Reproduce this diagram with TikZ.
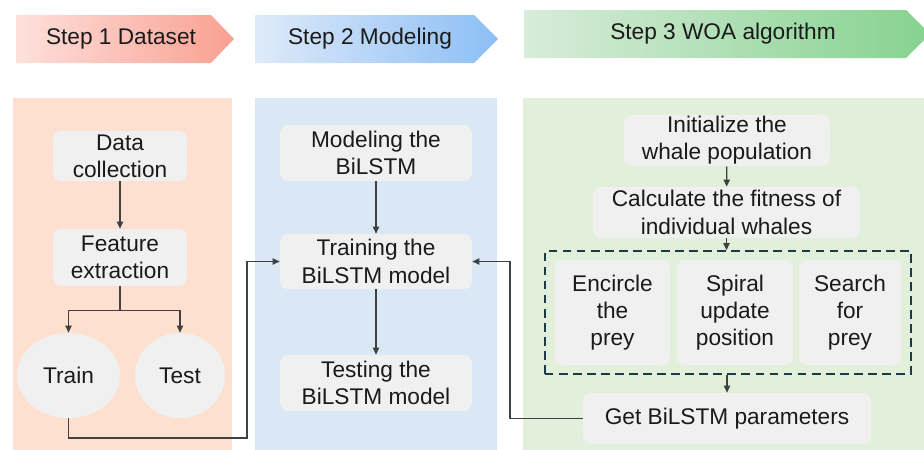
\documentclass[tikz,border=0pt]{standalone}
\usepackage{fontspec}
\setmainfont{Liberation Sans}
\usetikzlibrary{shapes.geometric,arrows.meta,fit,positioning}

\definecolor{boxgray}{RGB}{240,240,240}
\definecolor{linegray}{RGB}{64,64,64}
\definecolor{textblack}{RGB}{26,26,26}
\definecolor{peachpanel}{RGB}{253,224,208}
\definecolor{bluepanel}{RGB}{218,232,246}
\definecolor{greenpanel}{RGB}{226,239,218}
\definecolor{dashteal}{RGB}{28,58,72}

\tikzset{
    txt/.style={font=\fontsize{12.9}{15.5}\selectfont, text=textblack, align=center},
    stepbox/.style={txt, rectangle, rounded corners=0.16cm, fill=boxgray, inner sep=0pt},
    roundbox/.style={txt, ellipse, fill=boxgray, inner sep=0pt},
    dashbox/.style={draw=dashteal, line width=1.1pt, dash pattern=on 5pt off 3pt},
    flow/.style={draw=linegray, line width=0.75pt, -{Triangle[length=4pt,width=3.6pt]}}
}

\begin{document}
\begin{tikzpicture}[x=0.02cm, y=-0.02cm]
    \useasboundingbox (0,0) rectangle (924,450);

    % Step arrows on top
    \shade[left color={rgb,255:red,253;green,224;blue,219}, right color={rgb,255:red,249;green,160;blue,145}]
        (16,15) -- (211,15) -- (234,39) -- (211,63) -- (16,63) -- cycle;
    \shade[left color={rgb,255:red,222;green,234;blue,249}, right color={rgb,255:red,140;green,190;blue,245}]
        (255,15) -- (474,15) -- (498,39) -- (474,63) -- (255,63) -- cycle;
    \shade[left color={rgb,255:red,216;green,236;blue,218}, right color={rgb,255:red,134;green,210;blue,143}]
        (524,10) -- (906,10) -- (930,34) -- (906,58) -- (524,58) -- cycle;
    \node[txt] (step1) at (121,39) {Step 1 Dataset};
    \node[txt] (step2) at (370,39) {Step 2 Modeling};
    \node[txt] (step3) at (723,34) {Step 3 WOA algorithm};

    % Panels
    \fill[peachpanel] (13,98) rectangle (232,450);
    \fill[bluepanel] (255,98) rectangle (497,450);
    \fill[greenpanel] (523,98) rectangle (924,450);

    % Step 1 dataset
    \node[stepbox, minimum width=2.68cm, minimum height=1cm] (data) at (120,156) {Data\\collection};
    \node[stepbox, minimum width=2.68cm, minimum height=1.14cm] (feat) at (120,257.5) {Feature\\extraction};
    \node[roundbox, minimum width=2.06cm, minimum height=1.7cm] (train) at (68.5,375.5) {Train};
    \node[roundbox, minimum width=1.8cm, minimum height=1.7cm] (test) at (180,375.5) {Test};

    % Step 2 modeling
    \node[stepbox, minimum width=3.84cm, minimum height=1.12cm] (model) at (376,153) {Modeling the\\BiLSTM};
    \node[stepbox, minimum width=3.84cm, minimum height=1.1cm] (training) at (376,261.5) {Training the\\BiLSTM model};
    \node[stepbox, minimum width=3.84cm, minimum height=1.12cm] (testing) at (376,383) {Testing the\\BiLSTM model};

    % Step 3 WOA algorithm
    \node[stepbox, minimum width=4.12cm, minimum height=1.02cm] (init) at (727,140.5) {Initialize the\\whale population};
    \node[stepbox, minimum width=5.34cm, minimum height=1.02cm] (calc) at (726.5,212.5) {Calculate the fitness of\\individual whales};
    \node[stepbox, minimum width=2.3cm, minimum height=2.1cm] (encircle) at (612.5,312.5) {Encircle\\the\\prey};
    \node[stepbox, minimum width=2.32cm, minimum height=2.1cm] (spiral) at (735,312.5) {Spiral\\update\\position};
    \node[stepbox, minimum width=2.04cm, minimum height=2.1cm] (search) at (850,312.5) {Search\\for\\prey};
    \node[dashbox, fit=(encircle)(spiral)(search), inner xsep=0.2cm, inner ysep=0.17cm] (woa) {};
    \node[stepbox, minimum width=5.76cm, minimum height=1.02cm] (getp) at (727,418.5) {Get BiLSTM parameters};

    % Connectors
    \draw[flow] (data) -- (feat);
    \draw[flow] (feat.south) -- ++(0,24) -| (train.north);
    \draw[flow] (feat.south) -- ++(0,24) -| (test.north);
    \coordinate (lowA) at (247,438);
    \draw[flow] (train.south) |- (lowA) |- (training.west);
    \draw[flow] (model) -- (training);
    \draw[flow] (training) -- (testing);
    \draw[flow] (init) -- (calc);
    \draw[flow] (calc.south) -- (calc.south |- woa.north);
    \draw[flow] (getp.north |- woa.south) -- (getp.north);
    \coordinate (lowB) at (510,418.5);
    \draw[flow] (getp.west) -- (lowB) |- (training.east);
\end{tikzpicture}
\end{document}
